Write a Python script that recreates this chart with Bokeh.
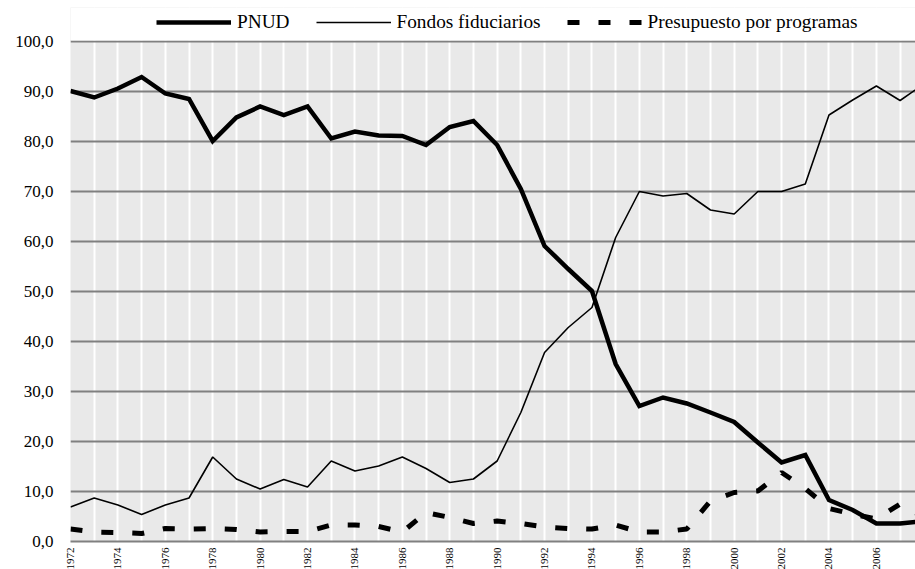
import math
from bokeh.plotting import figure
from bokeh.models import FixedTicker, Legend, LegendItem, Range1d, CustomJSTickFormatter, BoxAnnotation
from bokeh.embed import file_html
from bokeh.resources import INLINE

years = list(range(1972, 2009))
pnud = [90.1, 88.8, 90.6, 92.9, 89.6, 88.5, 80.1, 84.8, 87.0, 85.3, 87.0, 80.6, 82.0, 81.2, 81.1,
        79.3, 82.9, 84.1, 79.3, 70.5, 59.1, 54.5, 50.1, 35.5, 27.1, 28.8, 27.6, 25.8, 23.9, 19.8,
        15.8, 17.3, 8.3, 6.3, 3.6, 3.6, 4.1]
fondos = [6.9, 8.7, 7.3, 5.4, 7.3, 8.7, 16.9, 12.5, 10.5, 12.4, 10.9, 16.1, 14.1, 15.1, 16.9,
          14.6, 11.8, 12.5, 16.1, 25.8, 37.8, 42.8, 46.8, 60.8, 70.0, 69.1, 69.6, 66.3, 65.5, 70.0,
          70.0, 71.5, 85.3, 88.3, 91.1, 88.2, 91.5]
programas = [2.5, 1.9, 1.8, 1.6, 2.6, 2.5, 2.6, 2.4, 1.9, 2.0, 2.0, 3.3, 3.3, 3.0, 1.9, 5.8, 4.8,
             3.6, 4.1, 3.6, 2.9, 2.6, 2.5, 3.3, 1.9, 1.9, 2.5, 8.1, 9.8, 10.1, 13.8, 10.6, 6.6,
             5.5, 4.5, 7.5, 4.8]
label_years = list(range(1972, 2008, 2))
y_ticks = [0, 10, 20, 30, 40, 50, 60, 70, 80, 90, 100]

FONT = "Liberation Serif"

p = figure(frame_width=845, frame_height=534, output_backend="svg", toolbar_location=None,
           x_range=Range1d(1972, 2007.65), y_range=Range1d(0, 106.8),
           min_border_left=70, min_border_right=0, min_border_top=7, min_border_bottom=20)
p.background_fill_color = "#e9e9e9"
p.border_fill_color = "white"
p.outline_line_color = None

# grids
p.xgrid.ticker = FixedTicker(ticks=years)
p.xgrid.grid_line_color = "white"
p.xgrid.grid_line_width = 2
p.ygrid.ticker = FixedTicker(ticks=y_ticks)
p.ygrid.grid_line_color = "#808080"
p.ygrid.grid_line_width = 2

# white band above the 100 line (legend area)
p.add_layout(BoxAnnotation(bottom=100.2, fill_color="white", fill_alpha=1.0, line_color=None))

# axes
p.xaxis.ticker = FixedTicker(ticks=label_years)
p.xaxis.major_label_orientation = math.pi / 2
p.xaxis.major_label_text_font = FONT
p.xaxis.major_label_text_font_size = "11px"
p.xaxis.major_label_text_color = "black"
p.xaxis.major_label_standoff = 0
p.xaxis.major_tick_line_color = None
p.xaxis.minor_tick_line_color = None
p.xaxis.axis_line_color = "#808080"
p.xaxis.axis_line_width = 2

p.yaxis.ticker = FixedTicker(ticks=y_ticks)
p.yaxis.formatter = CustomJSTickFormatter(code="return tick.toFixed(1).replace('.', ',');")
p.yaxis.major_label_text_font = FONT
p.yaxis.major_label_text_font_size = "17px"
p.yaxis.major_label_text_color = "black"
p.yaxis.major_label_standoff = 11
p.yaxis.major_tick_line_color = None
p.yaxis.minor_tick_line_color = None
p.yaxis.axis_line_color = None

r1 = p.line(years, pnud, line_color="black", line_width=4.5, line_join="miter")
r2 = p.line(years, fondos, line_color="black", line_width=1.6)
r3 = p.line(years, programas, line_color="black", line_width=5, line_dash="12 19")

legend = Legend(items=[LegendItem(label="PNUD", renderers=[r1]),
                       LegendItem(label="Fondos fiduciarios", renderers=[r2]),
                       LegendItem(label="Presupuesto por programas", renderers=[r3])],
                orientation="horizontal", location=(86, 508),
                glyph_width=75, glyph_height=20, label_height=20, label_standoff=6,
                spacing=26, padding=5, margin=0,
                label_text_font=FONT, label_text_font_size="19.3px", label_text_color="black",
                border_line_color=None, background_fill_alpha=0)
p.add_layout(legend)

open("out.html", "w").write(file_html(p, INLINE))
